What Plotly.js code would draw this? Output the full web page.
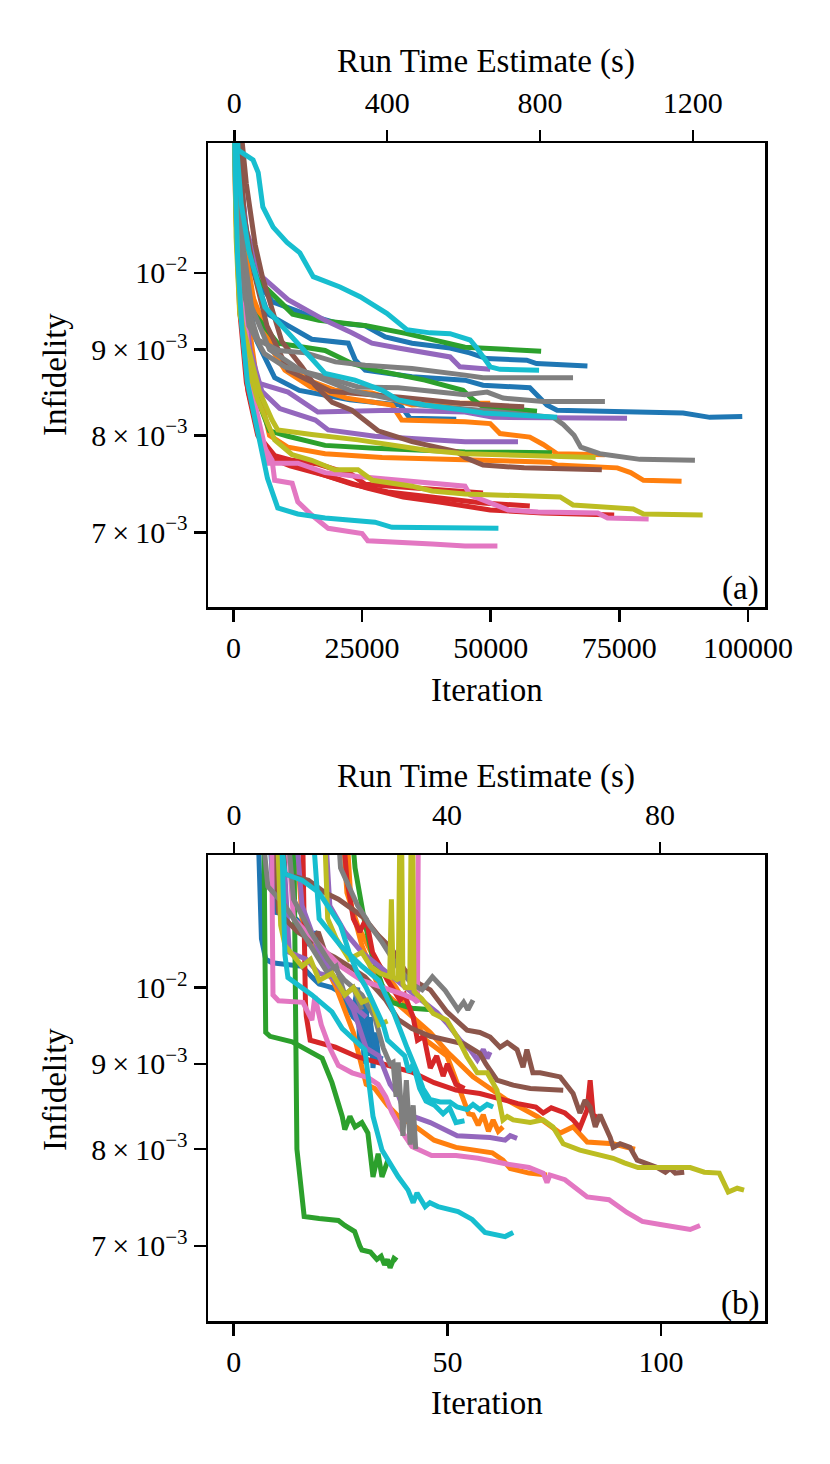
<!DOCTYPE html>
<html>
<head>
<meta charset="utf-8">
<script src="https://cdn.plot.ly/plotly-3.0.1.min.js"></script>
<style>
  html, body { margin: 0; padding: 0; background: #fff; }
  #chart { width: 830px; height: 1464px; }
</style>
</head>
<body>
<div id="chart"></div>
<script>
// tab10 colours used by the runs
const tab = {
  blue: '#1f77b4', orange: '#ff7f0e', green: '#2ca02c', red: '#d62728', purple: '#9467bd',
  brown: '#8c564b', pink: '#e377c2', gray: '#7f7f7f', olive: '#bcbd22', cyan: '#17becf'
};

// ---- panel (a): x in thousands of iterations, y = infidelity in units of 1e-3
const a01x = [0, 0.9, 3.8, 4.8, 5.7, 7.7, 10.4, 12.9, 15.5, 20.7, 24.6, 29.8, 33.7, 38.2, 42.1, 44.0, 46.0, 47.3, 48.9, 49.9, 51.8, 59.4];
const a01y = [13.5, 11.84, 11.68, 11.48, 10.95, 10.65, 10.43, 10.28, 9.95, 9.81, 9.68, 9.46, 9.25, 9.21, 9.2, 9.16, 9.12, 9.02, 8.89, 8.79, 8.76, 8.75];
const a02x = [0, 1.5, 2.5, 4.8, 8.5, 11.5, 16.6, 25.8, 33.7, 38.8, 45, 59.8];
const a02y = [13.5, 11.0, 10.45, 9.9, 9.65, 9.45, 9.37, 9.3, 9.2, 9.12, 9.03, 8.98];
const a03x = [0, 1.3, 2.5, 4.5, 7.6, 11.3, 14, 19.8, 25.6, 29.5, 34.7, 42.1, 45.9, 49.2, 57, 58.9, 68.8];
const a03y = [13.5, 11.44, 10.58, 9.9, 9.61, 9.52, 9.45, 9.34, 9.3, 9.16, 9.08, 9.02, 8.96, 8.89, 8.87, 8.83, 8.8];
const a04x = [0, 1.3, 2.5, 5.5, 10.6, 17.8, 23, 26.9, 32, 42.1, 44, 49.9];
const a04y = [13.5, 11.5, 10.6, 9.95, 9.64, 9.37, 9.21, 9.08, 9.02, 8.91, 8.79, 8.76];
const a05x = [0, 0.9, 2.2, 4.5, 6.7, 15.2, 22.3, 23.7, 25.6, 34.7, 45, 48.5, 57.6, 60.9, 62.9, 74.6, 87.4, 92.6, 98.9];
const a05y = [13.5, 11.5, 10.5, 9.9, 9.45, 9.13, 9.08, 8.87, 8.75, 8.67, 8.63, 8.57, 8.54, 8.34, 8.28, 8.26, 8.25, 8.2, 8.21];
const a06x = [0, 0.5, 1.2, 2.2, 4.8, 8.8, 14, 19.8, 25.6, 34.7, 45, 48.5, 66];
const a06y = [13.5, 11.8, 10.8, 9.67, 9.12, 8.99, 8.96, 8.85, 8.81, 8.77, 8.69, 8.66, 8.66];
const a07x = [0, 0.9, 2, 3.5, 8.6, 17.8, 23, 27.5, 37.2, 42.1, 44.6, 46.6, 48.5, 59];
const a07y = [13.5, 11.3, 10.2, 9.5, 9.08, 8.99, 8.83, 8.75, 8.63, 8.56, 8.51, 8.4, 8.32, 8.27];
const a08x = [0, 0.7, 1.6, 3, 6, 10, 17.8, 24.2, 32, 45, 49.3, 52.4, 60.2, 72.2];
const a08y = [13.5, 11.3, 10.2, 9.3, 8.95, 8.79, 8.67, 8.55, 8.54, 8.46, 8.49, 8.42, 8.38, 8.38];
const a09x = [0, 0.5, 1.5, 3, 6.1, 11.4, 15.3, 17.8, 23.6, 28.9, 32, 37.2, 45, 48.5, 62.9];
const a09y = [13.5, 12, 11, 10.3, 9.54, 9.16, 8.87, 8.71, 8.63, 8.51, 8.4, 8.34, 8.28, 8.25, 8.2];
const a10x = [0, 0.5, 1.3, 2.5, 4.5, 10.6, 16.4, 30.8, 45, 50.5, 76.5];
const a10y = [13.5, 11.5, 10, 9.0, 8.6, 8.49, 8.26, 8.28, 8.26, 8.2, 8.19];
const a11x = [0, 0.8, 2.5, 5.5, 8.6, 14.5, 19.8, 26.9, 34.7, 42.1, 49.9];
const a11y = [13.5, 11, 9.9, 9.37, 8.87, 8.63, 8.51, 8.48, 8.34, 8.36, 8.36];
const a12x = [0, 1, 2.4, 4, 6.5, 10, 15, 22, 30.8, 32.7, 45, 49.9, 51.8, 57.6, 60.2, 62.9, 72.2];
const a12y = [13.5, 11.5, 10.3, 9.6, 9.1, 8.75, 8.55, 8.42, 8.34, 8.17, 8.15, 8.13, 8.02, 7.98, 7.9, 7.8, 7.79];
const a13x = [0, 1, 2.1, 4, 6.5, 10.6, 18.8, 32.4, 44, 56.5];
const a13y = [13.5, 12.2, 10.8, 10.0, 9.3, 8.75, 8.5, 8.43, 8.36, 8.32];
const a14x = [0, 0.5, 1.3, 2.6, 4.7, 7, 10.6, 17.8, 27.5, 45, 61.9];
const a14y = [13.5, 11.5, 10.1, 9.1, 8.4, 8.05, 7.99, 7.89, 7.86, 7.82, 7.81];
const a15x = [0, 0.5, 1.2, 3, 5, 7.5, 8.6, 15.2, 24.2, 37.2, 45, 70.4];
const a15y = [13.5, 10.5, 9.45, 9.0, 8.5, 8.17, 8.06, 8.01, 7.95, 7.84, 7.8, 7.76];
const a16x = [0, 0.8, 2, 3.5, 7, 13, 22.7, 36.3, 51.8, 62.2, 64.1, 66.2, 67.5, 71.2, 79, 89.7];
const a16y = [13.5, 11.5, 10.3, 9.55, 9.0, 8.75, 8.51, 8.34, 8.26, 8.2, 8.12, 8.0, 7.87, 7.8, 7.74, 7.73];
const a17x = [0, 0.6, 1.6, 3, 4.6, 7, 10.6, 17.8, 28.9, 48.3, 61.6, 62.9, 74.6, 77.2, 79.7, 87.1];
const a17y = [13.5, 11.5, 10.2, 9.3, 8.6, 8.0, 7.87, 7.8, 7.76, 7.73, 7.71, 7.68, 7.65, 7.6, 7.52, 7.51];
const a18x = [0, 0.4, 1.2, 2.5, 4.5, 5.5, 8, 11.4, 16.4, 23, 25.6, 37.2, 45, 48.5];
const a18y = [13.5, 11, 9.5, 8.6, 8.1, 7.95, 7.78, 7.73, 7.69, 7.58, 7.48, 7.44, 7.41, 7.39];
const a19x = [0, 0.5, 1.4, 2.8, 4.7, 7, 10.6, 16, 23, 30, 37, 45, 48.5, 57.6];
const a19y = [13.5, 11, 9.5, 8.5, 8.0, 7.8, 7.7, 7.6, 7.48, 7.4, 7.36, 7.31, 7.29, 7.26];
const a20x = [0, 0.5, 1.4, 2.9, 5, 7.5, 11, 18, 26, 33, 40, 49.9, 60, 74];
const a20y = [13.5, 11, 9.5, 8.5, 8.0, 7.75, 7.67, 7.57, 7.44, 7.35, 7.3, 7.22, 7.19, 7.17];
const a21x = [0, 0.6, 1.3, 2.5, 4, 5.5, 6.8, 12.5, 17.8, 24.2, 34.7, 45, 46, 49.9, 53.4, 59.2, 70.8, 72.7, 80.7];
const a21y = [13.5, 11.5, 10.4, 9.2, 8.4, 8.0, 7.7, 7.7, 7.6, 7.56, 7.51, 7.46, 7.37, 7.29, 7.22, 7.2, 7.19, 7.14, 7.13];
const a22x = [0, 0.4, 1, 2.3, 4.7, 8, 11.4, 15.2, 19.7, 24.2, 27, 34.7, 38.6, 45, 63.5, 66, 77.7, 79.7, 91.2];
const a22y = [13.5, 11, 9.8, 8.9, 8.4, 7.95, 7.79, 7.73, 7.63, 7.63, 7.52, 7.46, 7.41, 7.38, 7.35, 7.27, 7.23, 7.18, 7.17];
const a23x = [0, 0.3, 0.8, 1.6, 2.7, 4.2, 5.5, 6.6, 8.6, 12.5, 17.8, 27.5, 30.8, 45, 51.5];
const a23y = [13.5, 11.5, 10.2, 9.3, 8.6, 8.17, 7.82, 7.54, 7.24, 7.18, 7.14, 7.1, 7.05, 7.04, 7.04];
const a24x = [0, 0.5, 1.3, 2.5, 4, 5.7, 7.5, 8, 11.4, 12.5, 15.2, 18.4, 25, 26.1, 38.6, 45, 51.3];
const a24y = [13.5, 11.5, 10.2, 9.0, 8.3, 7.9, 7.73, 7.52, 7.49, 7.3, 7.17, 7.04, 6.99, 6.92, 6.89, 6.87, 6.87];
const a25x = [0, 0.8, 2, 4.2, 8, 12.8, 22.6, 32.4, 34.3, 43.3];
const a25y = [13.5, 11.4, 10.1, 9.15, 8.66, 8.51, 8.4, 8.34, 8.19, 8.18];
const a26x = [0, 0.6, 1.6, 3.2, 5.5, 9, 15.9, 18.4, 27.5, 37.2, 45, 55.3];
const a26y = [13.5, 11.5, 10.0, 9.0, 8.5, 8.3, 8.17, 8.06, 7.99, 7.95, 7.93, 7.93];
const a27x = [0, 1.5, 2.5, 4.2, 5.6, 9.4, 13.3, 15.8, 19.2, 23, 28.1, 34.7, 43.5, 45, 48.5, 56.5, 71.6];
const a27y = [13.5, 12, 11.3, 10.4, 9.95, 9.1, 8.79, 8.57, 8.37, 8.28, 8.05, 7.93, 7.82, 7.76, 7.68, 7.65, 7.63];

// ---- panel (b): x in iterations, y = infidelity in units of 1e-3
const b01x = [0, 14, 14.8, 16.5, 20, 24.5, 26, 28.3, 29.5, 30, 32, 33.5, 34.5, 35.3, 36, 36.6, 37.5, 38.2];
const b01y = [14, 13, 8.0, 7.29, 7.27, 7.25, 7.2, 7.14, 7.0, 6.96, 6.94, 6.87, 6.9, 6.82, 6.87, 6.79, 6.88, 6.86];
const b02x = [0, 7, 7.5, 8.5, 13.7, 16.2, 20.7, 23, 25.4, 26, 27.2, 28.4, 30, 31.4, 32.6, 33.8, 34.7, 36.1];
const b02y = [14, 13, 9.4, 9.35, 9.28, 9.2, 9.07, 8.77, 8.37, 8.22, 8.37, 8.25, 8.3, 8.18, 7.7, 7.95, 7.7, 7.88];
const b03x = [0, 11, 11.4, 12, 12.7, 18.3, 23, 25.4, 30.7, 32.6, 34.7, 36.1, 38.5, 40.8, 42, 42.9, 44.8, 45.9, 47.8, 52.5, 55.8, 58.8, 61.9, 63.5, 65.4];
const b03y = [14, 13, 11.9, 10.46, 10.14, 9.9, 9.67, 9.45, 9.18, 8.37, 7.99, 7.88, 7.7, 7.56, 7.43, 7.53, 7.39, 7.43, 7.39, 7.34, 7.26, 7.13, 7.11, 7.09, 7.13];
const b04x = [0, 21, 22, 24, 27, 30, 32, 34.3, 36.5, 36.9, 37.3, 38.5, 39.1, 39.6, 40.1, 41.2, 41.7, 42.2, 43, 44, 46.7, 49.9, 52.3, 54.6, 57, 59.3, 61.6, 63, 64, 65.4, 69.4, 72.4, 74.7, 77.1, 81, 88.8, 91.4, 94.6, 106.8, 110.1, 113.6, 115.7, 117.8, 119.4];
const b04y = [14, 13, 11, 10.7, 10.4, 10.5, 10.3, 10.2, 10.15, 11.3, 10.15, 10.1, 14, 10.05, 10.0, 10.0, 14, 9.95, 9.9, 9.85, 9.65, 9.56, 9.34, 9.09, 8.89, 8.89, 8.68, 8.33, 8.37, 8.33, 8.3, 8.33, 8.25, 8.06, 7.99, 7.9, 7.85, 7.8, 7.8, 7.75, 7.74, 7.54, 7.58, 7.56];
const b05x = [0, 11, 12, 17.5, 21.4, 24.5, 27.7, 30.7, 33.8, 37, 40, 43.5, 46, 49.9, 54.6, 57.6, 60, 62.3, 64, 66.3, 67.7, 68.6, 70, 71.7, 76.4, 79.4, 81, 82.2, 83.4, 84.6, 85.7, 88.1, 88.8, 90.4, 92.7, 94.4, 99.1, 101, 102.1, 103.3, 105.4];
const b05y = [14, 13, 11.7, 11.6, 11.4, 11.3, 11.15, 11.0, 10.75, 10.55, 10.25, 10.05, 9.97, 9.67, 9.43, 9.4, 9.34, 9.21, 9.27, 9.18, 8.96, 9.18, 8.89, 8.89, 8.84, 8.64, 8.41, 8.56, 8.48, 8.25, 8.39, 8.13, 8.02, 8.06, 8.02, 7.88, 7.8, 7.75, 7.79, 7.74, 7.75];
const b06x = [0, 9, 10.5, 15, 18.3, 19.8, 21.4, 23.6, 27, 30.7, 33.8, 35.6, 38.5, 41.7, 46, 50, 54, 57.6, 59, 61.6, 65.4, 69.4, 77.1];
const b06y = [14, 13, 11.1, 10.8, 10.67, 10.8, 10.5, 10.43, 10.3, 10.15, 9.95, 9.83, 9.57, 9.45, 9.35, 9.3, 9.25, 9.13, 9.0, 8.8, 8.74, 8.7, 8.68];
const b07x = [0, 24, 25, 27, 29, 31, 31.8, 34.7, 37, 38.5, 41.7, 44.1, 46.5, 49.5, 52.5, 53.8, 54.8, 56];
const b07y = [14, 13, 11.8, 11.5, 11.2, 11.0, 10.9, 10.65, 10.43, 10.28, 10.05, 9.97, 10.15, 9.96, 9.7, 9.8, 9.7, 9.83];
const b08x = [0, 16, 16.8, 17, 17.9, 23.8, 28.9, 34, 37.5, 41.7, 46.9, 52, 57.6, 63, 66.5, 70.7, 72.4, 74.3, 77.5, 79.4, 81, 82.7, 83.4, 84.1, 85.3];
const b08y = [14, 13, 9.8, 9.61, 9.3, 9.21, 9.09, 9.02, 8.96, 8.9, 8.77, 8.68, 8.64, 8.56, 8.52, 8.48, 8.41, 8.47, 8.41, 8.33, 8.24, 8.45, 8.8, 8.39, 8.35];
const b09x = [0, 26, 27.5, 30, 34, 38, 42, 46, 50, 53.7, 56, 64, 71, 76.4, 79.4, 82.7, 88.8, 92, 93.9];
const b09y = [14, 13, 11.2, 10.6, 10.0, 9.8, 9.6, 9.4, 9.15, 8.96, 8.84, 8.56, 8.37, 8.18, 8.25, 8.08, 8.06, 8.02, 8.0];
const b10x = [0, 8.8, 9.2, 10.5, 16.2, 18.3, 19, 20.5, 22.5, 24.5, 27.7, 31.5, 33.8, 35.6, 37, 38.5, 40, 41.7, 46.3, 52, 57.2, 63.6, 69.1, 72.4, 73.3, 74, 77.5, 82.7, 87.8, 92, 95.6, 99.8, 103.3, 106.8, 109.1];
const b10y = [14, 13, 9.9, 9.82, 9.8, 9.56, 9.88, 9.5, 9.2, 8.98, 8.89, 8.83, 8.75, 8.6, 8.42, 8.27, 8.15, 8.03, 7.93, 7.93, 7.9, 7.84, 7.8, 7.74, 7.64, 7.72, 7.67, 7.49, 7.46, 7.33, 7.24, 7.21, 7.19, 7.16, 7.2];
const b11x = [0, 14, 16, 20, 24, 28, 30, 31, 33, 36, 39, 41.8, 46.9, 52, 60.5, 63, 64.7, 69.1, 73.3];
const b11y = [14, 13, 11, 10.5, 10.0, 9.4, 9.0, 8.75, 8.7, 8.5, 8.35, 8.28, 8.1, 8.02, 7.96, 7.88, 7.79, 7.74, 7.72];
const b12x = [0, 21, 22.5, 26, 30, 36, 40, 44.3, 47.6, 49.9, 53, 55.3, 57, 58.4, 59.3, 60];
const b12y = [14, 13, 11.2, 10.8, 10.5, 10.2, 10.0, 9.8, 9.66, 9.52, 9.3, 9.18, 9.05, 9.18, 9.07, 9.15];
const b13x = [0, 18, 20, 25, 30, 34, 37.3, 39, 40.6, 42.9, 44.3, 45.9, 48.3, 50.6, 52.3, 54.6, 56, 57.6, 59.3, 60.7];
const b13y = [14, 13, 11, 10.6, 10.3, 10.1, 9.68, 9.45, 9.2, 8.9, 8.7, 8.57, 8.54, 8.54, 8.48, 8.45, 8.51, 8.45, 8.51, 8.48];
const b14x = [0, 25, 26.5, 29, 33, 38, 42, 45, 49.9, 52, 55, 56, 57.2, 58.4, 59.6, 60.7, 61.9, 63];
const b14y = [14, 13, 11.4, 10.9, 10.4, 10.0, 9.6, 9.3, 9.1, 8.8, 8.4, 8.39, 8.27, 8.39, 8.2, 8.33, 8.2, 8.25];
const b15x = [0, 14, 16, 20, 24, 28, 31, 34, 36.6, 38.5, 39.8, 42, 46, 52.3, 60, 63.5, 64.7, 66.3];
const b15y = [14, 13, 11.2, 10.5, 10.1, 9.7, 9.2, 9.1, 8.75, 8.62, 8.45, 8.37, 8.3, 8.15, 8.13, 8.1, 8.15, 8.12];
const b16x = [0, 12, 14, 18, 22, 26, 30, 33, 35, 36.6, 37.3, 38, 38.5, 39.6, 40.4, 41.3, 42, 42.6];
const b16y = [14, 13, 11.3, 10.8, 10.4, 10.1, 9.9, 9.6, 9.2, 9.0, 9.02, 8.6, 9.02, 8.15, 8.8, 8.05, 8.5, 8.0];
const b17x = [0, 5.5, 6.5, 7.5, 9, 16, 18.3, 20, 23, 26, 28, 29, 29.5, 30, 30.5, 31, 31.5, 32, 32.6, 33.3, 34, 34.5];
const b17y = [14, 13, 10.7, 10.4, 10.35, 10.3, 10.15, 10.05, 10.0, 9.9, 9.7, 10.0, 9.2, 9.9, 9.0, 9.8, 9.1, 9.6, 8.95, 9.4, 9.0, 9.1];
const b18x = [0, 8, 9.5, 13.7, 16.2, 17.5, 19, 20, 22, 24, 26, 28, 30, 31, 32, 33, 34];
const b18y = [14, 13, 11.1, 11.05, 10.9, 10.6, 10.8, 10.7, 10.3, 10.0, 9.8, 9.6, 9.5, 9.3, 9.5, 9.2, 9.35];
const b19x = [0, 25, 26.5, 28, 29.5, 31, 32.5, 34.3, 36, 38.9, 40, 42, 43, 44.5, 46, 47.5, 49, 50, 52, 54];
const b19y = [14, 13, 11.6, 11.0, 10.8, 11.0, 10.5, 10.3, 10.1, 9.83, 9.9, 9.6, 9.3, 9.35, 8.95, 9.1, 8.85, 9.0, 8.75, 8.7];
const b20x = [0, 10, 12, 16, 20, 22, 25, 27, 29, 31, 33, 35, 36, 38, 40, 41, 42, 43.5, 45, 47, 49, 50.5, 52, 54];
const b20y = [14, 13, 11.7, 11.6, 11.4, 11.2, 10.9, 10.5, 10.2, 10.0, 9.75, 9.5, 9.3, 9.2, 9.1, 8.9, 9.0, 8.7, 8.55, 8.5, 8.4, 8.47, 8.3, 8.32];
const b21x = [0, 12, 14, 20, 25, 30, 35, 38, 40, 42, 43, 43.3];
const b21y = [14, 13, 11, 10.6, 10.3, 10.1, 10.0, 9.95, 9.9, 9.85, 9.8, 14];
const b22x = [0, 10, 11, 12, 16, 18, 20, 23, 26, 28, 30, 32, 34, 36];
const b22y = [14, 13, 10.9, 10.6, 10.3, 10.4, 10.1, 10.2, 9.9, 10.0, 9.8, 9.85, 9.5, 9.55];
const b23x = [0, 6, 8, 12, 16, 20, 22, 24, 26, 28, 30];
const b23y = [14, 13, 11.5, 11.2, 10.8, 10.4, 10.2, 10.3, 9.9, 10.0, 9.7];
const b24x = [0, 11, 13, 17, 20, 23, 26, 29, 31];
const b24y = [14, 13, 10.5, 10.4, 10.2, 10.15, 9.9, 9.7, 9.6];
const b25x = [0, 27, 28.4, 30.5, 32.4, 34.7, 37, 41.7, 46.4];
const b25y = [14, 13, 11.8, 11.0, 10.46, 10.04, 9.8, 9.72, 9.7];

// tick positions and labels
const iterTicksA = [0, 25000, 50000, 75000, 100000];
const timeTicksA = [0, 400, 800, 1200];
const iterTicksB = [0, 50, 100];
const timeTicksB = [0, 40, 80];
const infTicks = [0.007, 0.008, 0.009, 0.01];
const infTickText = ['7\u2009×\u200910<sup>−3</sup>', '8\u2009×\u200910<sup>−3</sup>', '9\u2009×\u200910<sup>−3</sup>', '10<sup>−2</sup>'];

const runsA = [
  [a03x, a03y, 'blue'], [a05x, a05y, 'blue'], [a25x, a25y, 'blue'],
  [a11x, a11y, 'orange'], [a12x, a12y, 'orange'], [a17x, a17y, 'orange'],
  [a02x, a02y, 'green'], [a07x, a07y, 'green'], [a14x, a14y, 'green'],
  [a18x, a18y, 'red'], [a19x, a19y, 'red'], [a20x, a20y, 'red'],
  [a04x, a04y, 'purple'], [a10x, a10y, 'purple'], [a26x, a26y, 'purple'],
  [a13x, a13y, 'brown'], [a27x, a27y, 'brown'],
  [a21x, a21y, 'pink'], [a24x, a24y, 'pink'],
  [a06x, a06y, 'gray'], [a08x, a08y, 'gray'], [a16x, a16y, 'gray'],
  [a15x, a15y, 'olive'], [a22x, a22y, 'olive'],
  [a01x, a01y, 'cyan'], [a09x, a09y, 'cyan'], [a23x, a23y, 'cyan']
];
const runsB = [
  [b17x, b17y, 'blue'], [b18x, b18y, 'blue'],
  [b09x, b09y, 'orange'], [b11x, b11y, 'orange'], [b14x, b14y, 'orange'],
  [b01x, b01y, 'green'], [b02x, b02y, 'green'], [b25x, b25y, 'green'],
  [b08x, b08y, 'red'], [b19x, b19y, 'red'],
  [b12x, b12y, 'purple'], [b15x, b15y, 'purple'], [b24x, b24y, 'purple'],
  [b05x, b05y, 'brown'], [b06x, b06y, 'brown'],
  [b10x, b10y, 'pink'], [b21x, b21y, 'pink'],
  [b07x, b07y, 'gray'], [b16x, b16y, 'gray'], [b23x, b23y, 'gray'],
  [b04x, b04y, 'olive'], [b22x, b22y, 'olive'],
  [b03x, b03y, 'cyan'], [b13x, b13y, 'cyan'], [b20x, b20y, 'cyan']
];

const FONT = 'Liberation Serif, Times New Roman, serif';
const LW = 5;

function runTrace(xs, ys, colour, xScale, xa, ya) {
  return {
    type: 'scatter', mode: 'lines',
    x: xs.map(v => v * xScale),
    y: ys.map(v => v * 1e-3),
    xaxis: xa, yaxis: ya,
    line: { color: tab[colour], width: LW },
    hoverinfo: 'skip', showlegend: false
  };
}

const data = [];
runsA.forEach(r => data.push(runTrace(r[0], r[1], r[2], 1000, 'x', 'y')));
runsB.forEach(r => data.push(runTrace(r[0], r[1], r[2], 1, 'x3', 'y2')));
// empty traces so the top (run time) axes get their own subplots
data.push({ type: 'scatter', x: [], y: [], xaxis: 'x2', yaxis: 'y', showlegend: false });
data.push({ type: 'scatter', x: [], y: [], xaxis: 'x4', yaxis: 'y2', showlegend: false });

const tickFont = { family: FONT, size: 30, color: '#000' };
const axisBase = {
  ticks: 'outside', ticklen: 12, tickwidth: 2.5, tickcolor: '#000',
  showgrid: false, zeroline: false, tickfont: tickFont,
  linecolor: '#000', linewidth: 2.5
};
const xDom = [208 / 830, 765 / 830];
const yDomA = [1 - 607 / 1464, 1 - 143 / 1464];
const yDomB = [1 - 1321 / 1464, 1 - 855 / 1464];

const layout = {
  width: 830, height: 1464,
  margin: { l: 0, r: 0, t: 0, b: 0 },
  paper_bgcolor: '#fff', plot_bgcolor: '#fff',
  showlegend: false,
  xaxis: Object.assign({}, axisBase, {
    domain: xDom, anchor: 'y', range: [-4960, 103320],
    tickvals: iterTicksA, tickformat: 'd', showline: true, mirror: true
  }),
  xaxis2: Object.assign({}, axisBase, {
    overlaying: 'x', side: 'top', anchor: 'y', range: [-69, 1389],
    tickvals: timeTicksA, tickformat: 'd', showline: false, ticklabelstandoff: 5
  }),
  yaxis: Object.assign({}, axisBase, {
    domain: yDomA, anchor: 'x', type: 'log', range: [-2.1994, -1.9224],
    tickvals: infTicks, ticktext: infTickText, showline: true, mirror: true
  }),
  xaxis3: Object.assign({}, axisBase, {
    domain: xDom, anchor: 'y2', range: [-6, 124.3],
    tickvals: iterTicksB, tickformat: 'd', showline: true, mirror: true
  }),
  xaxis4: Object.assign({}, axisBase, {
    overlaying: 'x3', side: 'top', anchor: 'y2', range: [-4.88, 99.7],
    tickvals: timeTicksB, tickformat: 'd', showline: false, ticklabelstandoff: 5
  }),
  yaxis2: Object.assign({}, axisBase, {
    domain: yDomB, anchor: 'x3', type: 'log', range: [-2.2, -1.9204],
    tickvals: infTicks, ticktext: infTickText, showline: true, mirror: true
  }),
  annotations: []
};

const titleFont = { family: FONT, size: 33, color: '#000' };
function label(text, px, py, angle) {
  layout.annotations.push({
    text: text, xref: 'paper', yref: 'paper',
    x: px / 830, y: 1 - py / 1464, xanchor: 'center', yanchor: 'middle',
    showarrow: false, font: titleFont, textangle: angle || 0
  });
}
label('Run Time Estimate (s)', 486, 62);
label('Iteration', 487, 690);
label('Infidelity', 55, 375, -90);
label('(a)', 740, 588);
label('Run Time Estimate (s)', 486, 776);
label('Iteration', 487, 1403);
label('Infidelity', 55, 1090, -90);
label('(b)', 740, 1303);

Plotly.newPlot('chart', data, layout, { displayModeBar: false, staticPlot: true });
</script>
</body>
</html>
